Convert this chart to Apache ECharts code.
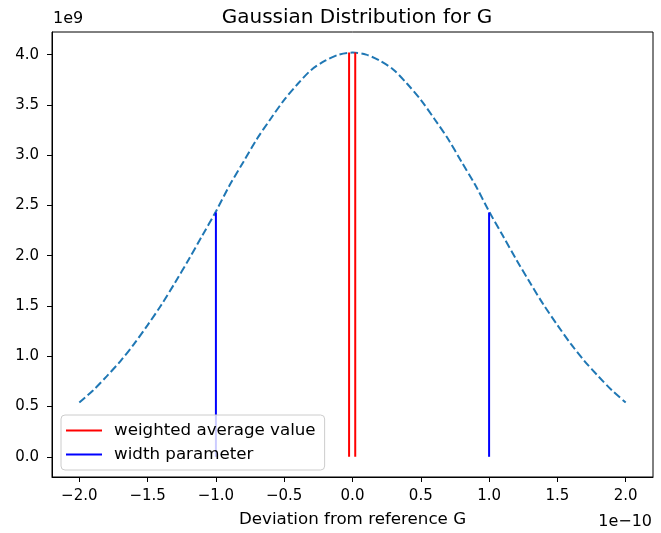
<!DOCTYPE html>
<html>
<head>
    <meta charset="utf-8">
    <title>Gaussian Distribution for G</title>
    <script src="https://cdn.jsdelivr.net/npm/echarts@6/dist/echarts.min.js"></script>
</head>
<body style="margin:0;">
<div id="main" style="width: 661px;height:533px;"></div>
<script type="text/javascript">
    // deviation from reference G (units of 1e-10)
    var xs = [-2.0, -1.9, -1.8, -1.7, -1.6, -1.5, -1.4, -1.3, -1.2, -1.1, -1.0,
              -0.9, -0.8, -0.7, -0.6, -0.5, -0.4, -0.3, -0.2, -0.1, 0.0,
              0.1, 0.2, 0.3, 0.4, 0.5, 0.6, 0.7, 0.8, 0.9, 1.0,
              1.1, 1.2, 1.3, 1.4, 1.5, 1.6, 1.7, 1.8, 1.9, 2.0];
    // probability density (units of 1e9)
    var density = [0.54, 0.66, 0.80, 0.95, 1.12, 1.31, 1.51, 1.73, 1.96, 2.20, 2.44,
                   2.70, 2.93, 3.16, 3.36, 3.55, 3.71, 3.85, 3.94, 4.00, 4.02,
                   4.00, 3.94, 3.85, 3.71, 3.55, 3.36, 3.16, 2.93, 2.70, 2.44,
                   2.20, 1.96, 1.73, 1.51, 1.31, 1.12, 0.95, 0.80, 0.66, 0.54];
    var avgX = [-0.025, 0.02];     // weighted average value lines
    var avgTop = [4.02, 4.02];
    var widthX = [-1.0, 1.0];      // width parameter lines
    var widthTop = [2.43, 2.43];
    var xTicks = [-2.0, -1.5, -1.0, -0.5, 0.0, 0.5, 1.0, 1.5, 2.0];
    var yTicks = [0.0, 0.5, 1.0, 1.5, 2.0, 2.5, 3.0, 3.5, 4.0];

    var font = 'DejaVu Sans';
    function fmt(v) {
        return v.toFixed(1).replace('-', '\u2212');
    }
    function vline(x, top) {
        return [[x, 0], [x, top]];
    }

    var curve = xs.map(function (x, i) { return [x, density[i]]; });

    var series = [{
        name: 'curve',
        type: 'line',
        data: curve,
        smooth: 0.3,
        showSymbol: false,
        symbol: 'none',
        lineStyle: { color: '#1f77b4', width: 2, type: [7.7, 3.3] },
        z: 2
    }];
    avgX.forEach(function (x, i) {
        series.push({
            name: 'weighted average value',
            type: 'line',
            data: vline(x, avgTop[i]),
            symbol: 'none',
            color: '#ff0000',
            lineStyle: { color: '#ff0000', width: 2 },
            z: 3
        });
    });
    widthX.forEach(function (x, i) {
        series.push({
            name: 'width parameter',
            type: 'line',
            data: vline(x, widthTop[i]),
            symbol: 'none',
            color: '#0000ff',
            lineStyle: { color: '#0000ff', width: 2 },
            z: 3
        });
    });

    var myChart = echarts.init(document.getElementById('main'));
    var option = {
        animation: false,
        textStyle: { fontFamily: font },
        title: {
            text: 'Gaussian Distribution for G',
            left: 352, top: 3, textAlign: 'center',
            textStyle: { fontFamily: font, fontSize: 20, fontWeight: 'normal', color: '#000' }
        },
        grid: {
            left: 52, top: 32, width: 601, height: 447,
            show: true, borderColor: '#000', borderWidth: 1
        },
        legend: {
            data: ['weighted average value', 'width parameter'],
            orient: 'vertical',
            left: 61, top: 415,
            icon: 'rect',
            itemWidth: 36, itemHeight: 2,
            itemGap: 7,
            padding: [7, 9, 7, 5],
            backgroundColor: 'rgba(255,255,255,0.8)',
            borderColor: '#cccccc', borderWidth: 1, borderRadius: 4,
            textStyle: { fontFamily: font, fontSize: 16.7, color: '#000', padding: [0, 0, 0, 7] },
            z: 10
        },
        xAxis: {
            type: 'value',
            min: -2.2, max: 2.2,
            name: 'Deviation from reference G',
            nameLocation: 'middle', nameGap: 34,
            nameTextStyle: { fontFamily: font, fontSize: 16.7, color: '#000' },
            axisLine: { onZero: false, lineStyle: { color: '#000' } },
            axisTick: { show: true, customValues: xTicks, length: 5, lineStyle: { color: '#000' } },
            axisLabel: { customValues: xTicks, formatter: fmt, margin: 12, fontSize: 15, color: '#000', fontFamily: font },
            splitLine: { show: false }
        },
        yAxis: {
            type: 'value',
            min: -0.201, max: 4.225,
            axisLine: { show: true, onZero: false, lineStyle: { color: '#000' } },
            axisTick: { show: true, customValues: yTicks, length: 5, lineStyle: { color: '#000' } },
            axisLabel: { customValues: yTicks, formatter: fmt, margin: 13, fontSize: 15, color: '#000', fontFamily: font },
            splitLine: { show: false }
        },
        graphic: [
            { type: 'text', left: 53, top: 11,
              style: { text: '1e9', fontFamily: font, fontSize: 16, fill: '#000' } },
            { type: 'text', right: 9, top: 514,
              style: { text: '1e\u221210', fontFamily: font, fontSize: 16, fill: '#000' } }
        ],
        series: series
    };
    myChart.setOption(option);
</script>
</body>
</html>
